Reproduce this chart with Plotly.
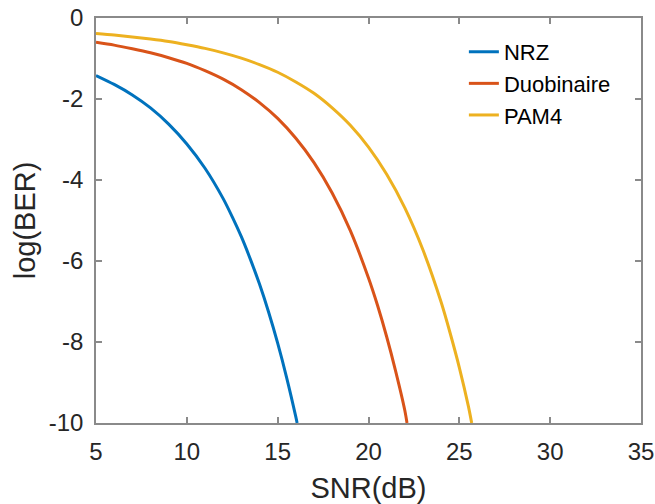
import plotly.graph_objects as go

# SNR (dB) sample points and log10(BER) values
snr_nrz = [5, 6, 7, 8, 9, 10, 11, 12, 12.5, 13, 13.5, 14, 14.5, 15, 15.5, 16, 16.07]
ber_nrz = [-1.42, -1.64, -1.90, -2.22, -2.62, -3.11, -3.71, -4.46, -4.91, -5.40,
           -5.96, -6.57, -7.26, -8.03, -8.89, -9.85, -10.0]

snr_duo = [5, 6, 7, 8, 9, 10, 11, 12, 13, 14, 15, 16, 17, 18, 19, 20, 20.5, 21, 21.5, 22, 22.12]
ber_duo = [-0.60, -0.67, -0.76, -0.86, -0.98, -1.12, -1.30, -1.51, -1.77, -2.09,
           -2.48, -2.97, -3.57, -4.32, -5.25, -6.42, -7.10, -7.87, -8.73, -9.69, -10.0]

snr_pam4 = [5, 6, 7, 8, 9, 10, 11, 12, 13, 14, 15, 16, 17, 18, 19, 20, 21, 22, 23,
            24, 24.5, 25, 25.5, 25.68]
ber_pam4 = [-0.38, -0.42, -0.47, -0.52, -0.58, -0.66, -0.75, -0.86, -0.99, -1.15,
            -1.34, -1.58, -1.86, -2.22, -2.65, -3.19, -3.86, -4.69, -5.73,
            -7.02, -7.79, -8.63, -9.59, -10.0]

series_names = ["NRZ", "Duobinaire", "PAM4"]
series_colors = ["#0072BD", "#D95319", "#EDB120"]

x_ticks = [5, 10, 15, 20, 25, 30, 35]
x_tick_labels = ["5", "10", "15", "20", "25", "30", "35"]
y_ticks = [0, -2, -4, -6, -8, -10]
y_tick_labels = ["0", "-2", "-4", "-6", "-8", "-10"]

FONT = "Liberation Sans, Arial, sans-serif"
TXT = "#262626"
AX = "#8a8a8a"

fig = go.Figure()
for xs, ys, name, col in zip([snr_nrz, snr_duo, snr_pam4],
                             [ber_nrz, ber_duo, ber_pam4],
                             series_names, series_colors):
    fig.add_trace(go.Scatter(x=xs, y=ys, mode="lines", name=name,
                             line=dict(color=col, width=3, shape="spline", smoothing=0.8)))

axis_common = dict(
    showgrid=False, zeroline=False, showline=True, linecolor=AX, linewidth=1.5,
    mirror="ticks", ticks="inside", ticklen=6, tickwidth=1.5, tickcolor=AX,
    tickfont=dict(family=FONT, size=24, color=TXT), automargin=False,
)

fig.update_layout(
    width=655, height=504,
    margin=dict(l=96, r=14, t=18, b=81),
    paper_bgcolor="white", plot_bgcolor="white",
    font=dict(family=FONT, color=TXT),
    xaxis=dict(range=[5, 35], tickvals=x_ticks, ticktext=x_tick_labels,
               ticklabelstandoff=6,
               title=dict(text="SNR(dB)", font=dict(family=FONT, size=29, color=TXT), standoff=14),
               **axis_common),
    yaxis=dict(range=[-10, 0], tickvals=y_ticks, ticktext=y_tick_labels,
               ticklabelstandoff=6,
               title=dict(text="log(BER)", font=dict(family=FONT, size=29, color=TXT), standoff=5),
               **axis_common),
    legend=dict(x=0.675, y=0.968, xanchor="left", yanchor="top",
                bgcolor="rgba(0,0,0,0)", borderwidth=0,
                font=dict(family=FONT, size=22, color="black"),
                tracegroupgap=0, itemwidth=30),
    showlegend=True,
)

fig.write_html("out.html", config={"displayModeBar": False},
               post_script="document.body.style.margin='0';")
